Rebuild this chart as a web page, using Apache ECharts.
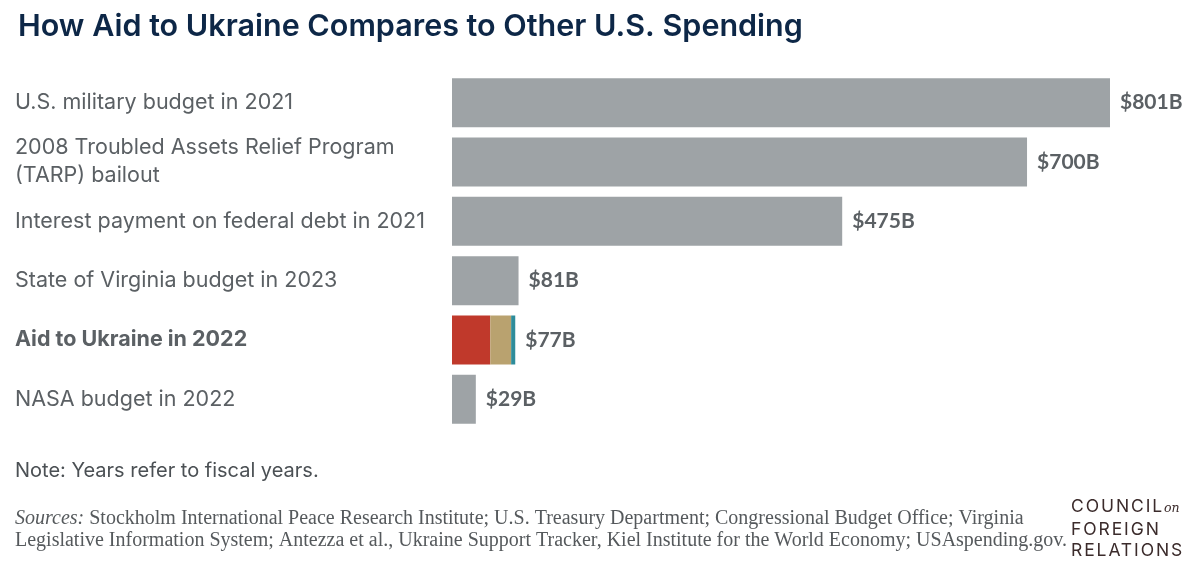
<!DOCTYPE html>
<html>
<head>
<meta charset="utf-8">
<script src="https://cdn.jsdelivr.net/npm/echarts@6/dist/echarts.min.js"></script>
<style>
html,body{margin:0;padding:0;background:#fff;}
#main{width:1204px;height:580px;}
.logo{position:absolute;left:1071px;top:495px;font-family:"Inter",sans-serif;color:#3b2b2b;font-size:17.5px;line-height:21px;letter-spacing:1.9px;}
.logo i{font-family:"DejaVu Serif",serif;font-size:12.5px;letter-spacing:0;}
</style>
</head>
<body>
<div id="main"></div>
<div class="logo">COUNCIL<i>on</i><br>FOREIGN<br>RELATIONS</div>
<script>
var categories=["U.S. military budget in 2021","2008 Troubled Assets Relief Program\n(TARP) bailout","Interest payment on federal debt in 2021","State of Virginia budget in 2023","Aid to Ukraine in 2022","NASA budget in 2022"];
var otherSpending=[801,700,475,81,'-',29];
// Ukraine aid broken into three parts
var ukraineRed=['-','-','-','-',46.6,'-'];
var ukraineTan=['-','-','-','-',25.4,'-'];
var ukraineTeal=['-','-','-','-',5,'-'];
var totals=[801,700,475,81,77,29];
var highlight=4;

function valLabel(p){
	return "$"+totals[p.dataIndex]+"B";
}
var lblStyle={show:true,position:'right',distance:10,formatter:valLabel,color:'#5b6064',fontFamily:'Lato',fontWeight:'bold',fontSize:21};

var myChart=echarts.init(document.getElementById('main'));
var option={
	animation:false,
	title:{
		text:"How Aid to Ukraine Compares to Other U.S. Spending",
		left:13,top:6,
		textStyle:{color:'#0d2747',fontFamily:'Inter',fontWeight:600,fontSize:30.5}
	},
	grid:{left:452,right:94,top:73,bottom:151},
	xAxis:{type:'value',min:0,max:801,show:false},
	yAxis:{
		type:'category',inverse:true,data:categories,
		axisLine:{show:false},axisTick:{show:false},
		axisLabel:{
			align:'left',margin:437,color:'#5b6064',fontFamily:'Inter',fontSize:21.5,lineHeight:28,
			formatter:function(v,i){
				return i==highlight?'{b|'+v+'}':v;
			},
			rich:{b:{fontWeight:'bold',fontFamily:'Inter',fontSize:21.5,color:'#5b6064'}}
		}
	},
	series:[
		{name:'other',type:'bar',stack:'a',barWidth:49,data:otherSpending,itemStyle:{color:'#9ea3a6'},label:lblStyle},
		{name:'ukraine1',type:'bar',stack:'a',barWidth:49,data:ukraineRed,itemStyle:{color:'#c0392b'}},
		{name:'ukraine2',type:'bar',stack:'a',barWidth:49,data:ukraineTan,itemStyle:{color:'#b9a26f'}},
		{name:'ukraine3',type:'bar',stack:'a',barWidth:49,data:ukraineTeal,itemStyle:{color:'#2e8c9a'},label:lblStyle}
	],
	graphic:[
		{type:'text',left:15,top:461,style:{text:"Note: Years refer to fiscal years.",fill:'#4b5054',font:'20px Inter'}},
		{type:'text',left:15,top:508,style:{
			text:"{i|Sources:} Stockholm International Peace Research Institute; U.S. Treasury Department; Congressional Budget Office; Virginia\nLegislative Information System; Antezza et al., Ukraine Support Tracker, Kiel Institute for the World Economy; USAspending.gov.",
			fill:'#55595c',font:'20px "Liberation Serif"',lineHeight:22,
			rich:{i:{fontStyle:'italic',fontFamily:'Liberation Serif',fontSize:20,fill:'#55595c'}}
		}}
	]
};
myChart.setOption(option);
</script>
</body>
</html>
